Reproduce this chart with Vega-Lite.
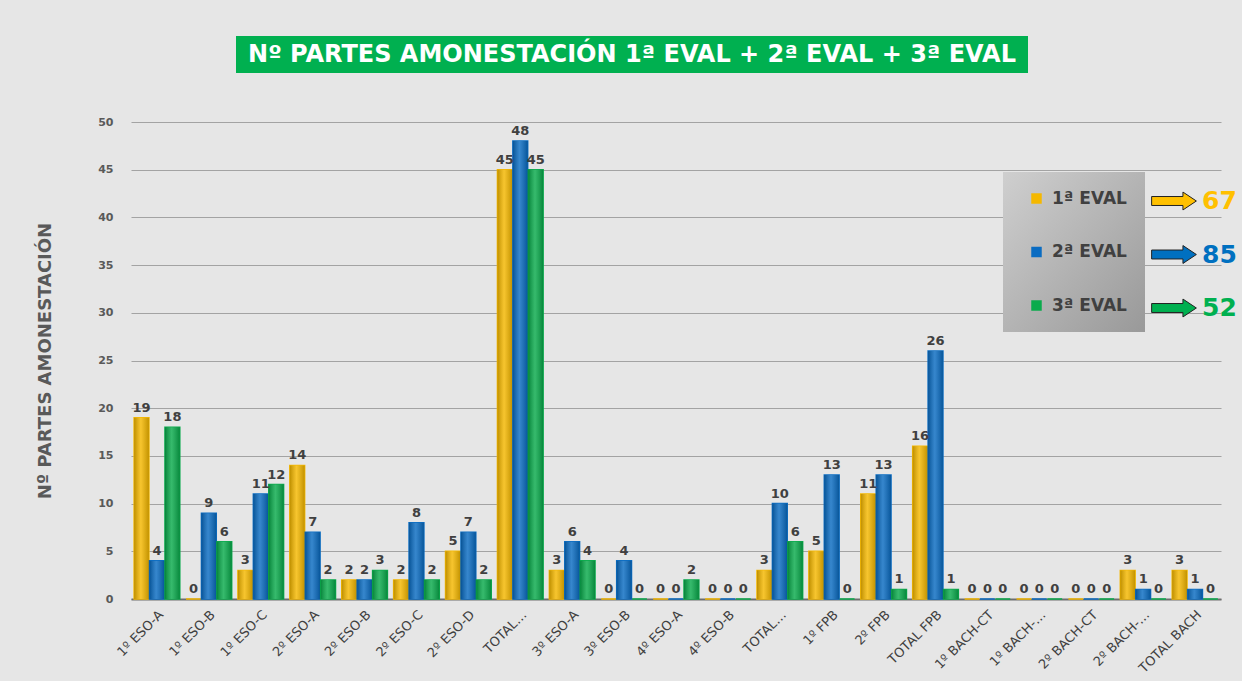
{
  "$schema": "https://vega.github.io/schema/vega-lite/v6.json",
  "background": "#e6e6e6",
  "padding": {"left": 36, "top": 36, "right": 5, "bottom": 5},
  "config": {"font": "DejaVu Sans", "view": {"stroke": null}},
  "data": {"values": [
    {"c": "1º ESO-A", "e": "1ª EVAL", "v": 19, "t": "67"},
    {"c": "1º ESO-A", "e": "2ª EVAL", "v": 4, "t": "85"},
    {"c": "1º ESO-A", "e": "3ª EVAL", "v": 18, "t": "52"},
    {"c": "1º ESO-B", "e": "1ª EVAL", "v": 0, "t": "67"},
    {"c": "1º ESO-B", "e": "2ª EVAL", "v": 9, "t": "85"},
    {"c": "1º ESO-B", "e": "3ª EVAL", "v": 6, "t": "52"},
    {"c": "1º ESO-C", "e": "1ª EVAL", "v": 3, "t": "67"},
    {"c": "1º ESO-C", "e": "2ª EVAL", "v": 11, "t": "85"},
    {"c": "1º ESO-C", "e": "3ª EVAL", "v": 12, "t": "52"},
    {"c": "2º ESO-A", "e": "1ª EVAL", "v": 14, "t": "67"},
    {"c": "2º ESO-A", "e": "2ª EVAL", "v": 7, "t": "85"},
    {"c": "2º ESO-A", "e": "3ª EVAL", "v": 2, "t": "52"},
    {"c": "2º ESO-B", "e": "1ª EVAL", "v": 2, "t": "67"},
    {"c": "2º ESO-B", "e": "2ª EVAL", "v": 2, "t": "85"},
    {"c": "2º ESO-B", "e": "3ª EVAL", "v": 3, "t": "52"},
    {"c": "2º ESO-C", "e": "1ª EVAL", "v": 2, "t": "67"},
    {"c": "2º ESO-C", "e": "2ª EVAL", "v": 8, "t": "85"},
    {"c": "2º ESO-C", "e": "3ª EVAL", "v": 2, "t": "52"},
    {"c": "2º ESO-D", "e": "1ª EVAL", "v": 5, "t": "67"},
    {"c": "2º ESO-D", "e": "2ª EVAL", "v": 7, "t": "85"},
    {"c": "2º ESO-D", "e": "3ª EVAL", "v": 2, "t": "52"},
    {"c": "TOTAL 1º-2º ESO", "e": "1ª EVAL", "v": 45, "t": "67"},
    {"c": "TOTAL 1º-2º ESO", "e": "2ª EVAL", "v": 48, "t": "85"},
    {"c": "TOTAL 1º-2º ESO", "e": "3ª EVAL", "v": 45, "t": "52"},
    {"c": "3º ESO-A", "e": "1ª EVAL", "v": 3, "t": "67"},
    {"c": "3º ESO-A", "e": "2ª EVAL", "v": 6, "t": "85"},
    {"c": "3º ESO-A", "e": "3ª EVAL", "v": 4, "t": "52"},
    {"c": "3º ESO-B", "e": "1ª EVAL", "v": 0, "t": "67"},
    {"c": "3º ESO-B", "e": "2ª EVAL", "v": 4, "t": "85"},
    {"c": "3º ESO-B", "e": "3ª EVAL", "v": 0, "t": "52"},
    {"c": "4º ESO-A", "e": "1ª EVAL", "v": 0, "t": "67"},
    {"c": "4º ESO-A", "e": "2ª EVAL", "v": 0, "t": "85"},
    {"c": "4º ESO-A", "e": "3ª EVAL", "v": 2, "t": "52"},
    {"c": "4º ESO-B", "e": "1ª EVAL", "v": 0, "t": "67"},
    {"c": "4º ESO-B", "e": "2ª EVAL", "v": 0, "t": "85"},
    {"c": "4º ESO-B", "e": "3ª EVAL", "v": 0, "t": "52"},
    {"c": "TOTAL 3º-4º ESO", "e": "1ª EVAL", "v": 3, "t": "67"},
    {"c": "TOTAL 3º-4º ESO", "e": "2ª EVAL", "v": 10, "t": "85"},
    {"c": "TOTAL 3º-4º ESO", "e": "3ª EVAL", "v": 6, "t": "52"},
    {"c": "1º FPB", "e": "1ª EVAL", "v": 5, "t": "67"},
    {"c": "1º FPB", "e": "2ª EVAL", "v": 13, "t": "85"},
    {"c": "1º FPB", "e": "3ª EVAL", "v": 0, "t": "52"},
    {"c": "2º FPB", "e": "1ª EVAL", "v": 11, "t": "67"},
    {"c": "2º FPB", "e": "2ª EVAL", "v": 13, "t": "85"},
    {"c": "2º FPB", "e": "3ª EVAL", "v": 1, "t": "52"},
    {"c": "TOTAL FPB", "e": "1ª EVAL", "v": 16, "t": "67"},
    {"c": "TOTAL FPB", "e": "2ª EVAL", "v": 26, "t": "85"},
    {"c": "TOTAL FPB", "e": "3ª EVAL", "v": 1, "t": "52"},
    {"c": "1º BACH-CT", "e": "1ª EVAL", "v": 0, "t": "67"},
    {"c": "1º BACH-CT", "e": "2ª EVAL", "v": 0, "t": "85"},
    {"c": "1º BACH-CT", "e": "3ª EVAL", "v": 0, "t": "52"},
    {"c": "1º BACH-HCS", "e": "1ª EVAL", "v": 0, "t": "67"},
    {"c": "1º BACH-HCS", "e": "2ª EVAL", "v": 0, "t": "85"},
    {"c": "1º BACH-HCS", "e": "3ª EVAL", "v": 0, "t": "52"},
    {"c": "2º BACH-CT", "e": "1ª EVAL", "v": 0, "t": "67"},
    {"c": "2º BACH-CT", "e": "2ª EVAL", "v": 0, "t": "85"},
    {"c": "2º BACH-CT", "e": "3ª EVAL", "v": 0, "t": "52"},
    {"c": "2º BACH-HCS", "e": "1ª EVAL", "v": 3, "t": "67"},
    {"c": "2º BACH-HCS", "e": "2ª EVAL", "v": 1, "t": "85"},
    {"c": "2º BACH-HCS", "e": "3ª EVAL", "v": 0, "t": "52"},
    {"c": "TOTAL BACH", "e": "1ª EVAL", "v": 3, "t": "67"},
    {"c": "TOTAL BACH", "e": "2ª EVAL", "v": 1, "t": "85"},
    {"c": "TOTAL BACH", "e": "3ª EVAL", "v": 0, "t": "52"}
  ]},
  "vconcat": [
    {
      "hconcat": [
        {
          "data": {"values": []},
          "width": 105,
          "height": 37,
          "mark": {"type": "text"}
        },
        {
          "data": {"values": [{"title": "Nº PARTES AMONESTACIÓN 1ª EVAL + 2ª EVAL + 3ª EVAL"}]},
          "width": 792,
          "height": 37,
          "view": {"fill": "#00b050", "stroke": null},
          "mark": {"type": "text", "color": "white", "fontSize": 24, "fontWeight": "bold", "baseline": "middle", "align": "center"},
          "encoding": {"text": {"field": "title"}}
        }
      ],
      "spacing": 0
    },
    {
      "width": 1090,
      "height": 477,
      "resolve": {"scale": {"color": "independent"}, "legend": {"color": "independent"}},
      "encoding": {
        "x": {
          "field": "c", "type": "nominal", "sort": null, "title": null,
          "scale": {"paddingInner": 0.12, "paddingOuter": 0.06},
          "axis": {
            "labelAngle": -45, "labelFontSize": 13, "labelColor": "#404040", "ticks": false,
            "domainColor": "#6e6e6e", "domainWidth": 2, "labelPadding": 9,
            "labelExpr": "indexof(datum.label, 'TOTAL') === 0 && indexof(datum.label, 'ESO') > 0 ? 'TOTAL…' : replace(datum.label, 'HCS', '…')"
          }
        },
        "xOffset": {"field": "e", "type": "nominal", "sort": null, "scale": {"paddingInner": 0.04}},
        "y": {
          "field": "v", "type": "quantitative",
          "scale": {"domain": [0, 50]},
          "axis": {
            "values": [0, 5, 10, 15, 20, 25, 30, 35, 40, 45, 50],
            "grid": true, "gridColor": "#a3a3a3", "domain": false, "ticks": false,
            "labelPadding": 18, "labelFontSize": 11, "labelFontWeight": "bold", "labelColor": "#595959",
            "title": "Nº PARTES AMONESTACIÓN", "titleFontSize": 18, "titleFontWeight": "bold",
            "titleColor": "#595959", "titlePadding": 43
          }
        }
      },
      "layer": [
        {
          "mark": {"type": "bar", "strokeWidth": 1.5},
          "encoding": {
            "color": {
              "field": "e", "type": "nominal",
              "scale": {"range": ["#f5b800", "#0a6cc2", "#0aab4c"]},
              "legend": {
                "orient": "none", "legendX": 872, "legendY": 50, "title": null,
                "symbolType": "square", "symbolSize": 110, "symbolStrokeWidth": 0,
                "labelFontSize": 17, "labelFontWeight": "bold", "labelColor": "#404040",
                "rowPadding": 35.5, "padding": 18, "symbolOffset": 7, "labelOffset": 7,
                "fillColor": "#b4b4b4",
                "encode": {
                  "legend": {"update": {"fill": {"value": {"gradient": "linear", "x1": 0, "y1": 0, "x2": 1, "y2": 1, "stops": [{"offset": 0, "color": "#cfcfcf"}, {"offset": 1, "color": "#999999"}]}}}}
                }
              }
            },
            "stroke": {"field": "e", "type": "nominal", "legend": null, "scale": {"range": ["#f5b800", "#0a6cc2", "#0aab4c"]}}
          }
        },
        {
          "mark": {
            "type": "bar",
            "fill": {"gradient": "linear", "x1": 0, "y1": 0, "x2": 1, "y2": 0, "stops": [
              {"offset": 0, "color": "rgba(0,0,0,0.22)"},
              {"offset": 0.45, "color": "rgba(255,255,255,0.18)"},
              {"offset": 1, "color": "rgba(0,0,0,0.2)"}
            ]}
          }
        },
        {
          "mark": {"type": "text", "dy": -10, "fontSize": 13, "fontWeight": "bold", "color": "#404040"},
          "encoding": {"text": {"field": "v", "type": "quantitative"}}
        },
        {
          "mark": {"type": "point", "filled": true, "opacity": 0},
          "encoding": {
            "color": {
              "field": "t", "type": "nominal",
              "scale": {"domain": ["67", "85", "52"], "range": ["#ffc000", "#0070c0", "#00b050"]},
              "legend": {
                "orient": "none", "legendX": 1020, "legendY": 56, "title": null, "padding": 0,
                "symbolType": "M-1,-0.2L0.4,-0.2L0.4,-0.4L1,0L0.4,0.4L0.4,0.2L-1,0.2Z",
                "symbolSize": 2000, "labelFontSize": 25, "labelFontWeight": "bold",
                "rowPadding": 17.5, "labelOffset": 5,
                "symbolStrokeColor": "#222222", "symbolStrokeWidth": 1, "symbolOpacity": 1,
                "labelColor": {"expr": "datum.value === '67' ? '#ffc000' : datum.value === '85' ? '#0070c0' : '#00b050'"}
              }
            }
          }
        }
      ]
    }
  ],
  "spacing": 43
}
